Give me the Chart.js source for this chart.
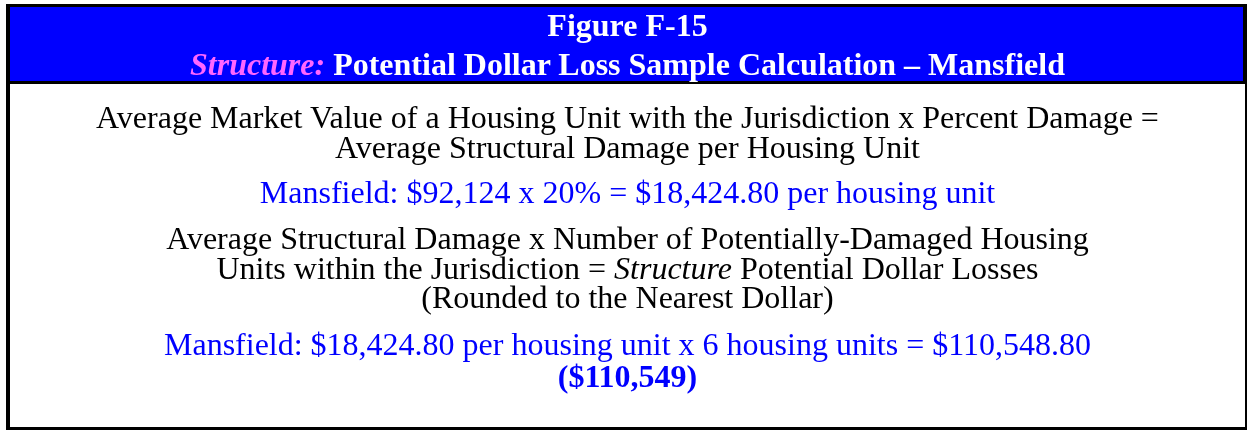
<!DOCTYPE html>
<html>
<head>
<meta charset="utf-8">
<script src="https://cdn.jsdelivr.net/npm/chart.js@4.4.0/dist/chart.umd.min.js"></script>
<style>
  html, body { margin: 0; padding: 0; background: #ffffff; }
  #wrap { position: relative; width: 1247px; height: 430px; overflow: hidden; }
  #c { position: absolute; left: 0; top: 0; }
  .ln { position: absolute; left: 10px; width: 1235px; text-align: center; white-space: nowrap;
        font-family: "Liberation Serif", "Times New Roman", serif; line-height: 1; }
  .hd { color: #ffffff; font-weight: bold; font-size: 32px; }
  .pk { color: #ff66ff; font-style: italic; }
  .bk { color: #000000; font-size: 32px; }
  .bl { color: #0000ff; font-size: 32px; }
  .bb { color: #0000ff; font-size: 32px; font-weight: bold; }
</style>
</head>
<body>
<div id="wrap">
  <canvas id="c" width="1247" height="430"></canvas>
  <div id="txt"></div>
</div>
<script>
// ---- content (text data) ----
const titleLine1 = "Figure F-15";
const titleItalic = "Structure:";
const titleRest = " Potential Dollar Loss Sample Calculation \u2013 Mansfield";
const formula1 = ["Average Market Value of a Housing Unit with the Jurisdiction x Percent Damage =",
                  "Average Structural Damage per Housing Unit"];
const result1 = "Mansfield: $92,124 x 20% = $18,424.80 per housing unit";
const formula2a = "Average Structural Damage x Number of Potentially-Damaged Housing";
const formula2b = ["Units within the Jurisdiction = ", "Structure", " Potential Dollar Losses"];
const formula2c = "(Rounded to the Nearest Dollar)";
const result2 = "Mansfield: $18,424.80 per housing unit x 6 housing units = $110,548.80";
const result2Rounded = "($110,549)";

// ---- frame drawn by a Chart.js plugin ----
const framePlugin = {
  id: 'frame',
  beforeDraw(chart) {
    const ctx = chart.ctx;
    ctx.save();
    ctx.fillStyle = '#ffffff';
    ctx.fillRect(0, 0, 1247, 430);
    ctx.fillStyle = '#0000ff';
    ctx.fillRect(6, 4, 1241, 80);
    ctx.fillStyle = '#000000';
    ctx.fillRect(6, 4, 1241, 3);      // top border
    ctx.fillRect(6, 81, 1241, 3);     // header separator
    ctx.fillRect(6, 4, 4, 426);       // left border
    ctx.fillRect(1243, 4, 4, 80);     // right border (header)
    ctx.fillRect(1245, 84, 2, 346);   // right border (body)
    ctx.fillRect(6, 427, 1241, 3);    // bottom border
    ctx.restore();
  }
};

new Chart(document.getElementById('c'), {
  type: 'bar',
  data: { labels: [], datasets: [] },
  options: {
    responsive: false,
    animation: false,
    events: [],
    layout: { padding: 0 },
    plugins: { legend: { display: false }, title: { display: false }, tooltip: { enabled: false } },
    scales: { x: { display: false }, y: { display: false } }
  },
  plugins: [framePlugin]
});

// ---- text layout ----
const txt = document.getElementById('txt');
function esc(s) { return s.replace(/&/g, '&amp;').replace(/</g, '&lt;'); }
function addLine(cls, html, baseline, size) {
  const d = document.createElement('div');
  d.className = 'ln ' + cls;
  d.innerHTML = html;
  d.style.top = (baseline - size * 0.891) + 'px';
  txt.appendChild(d);
}
addLine('hd', esc(titleLine1), 38, 32);
addLine('hd', '<span class="pk">' + esc(titleItalic) + '</span>' + esc(titleRest), 77, 32);
addLine('bk', esc(formula1[0]), 130, 32);
addLine('bk', esc(formula1[1]), 160, 32);
addLine('bl', esc(result1), 205, 32);
addLine('bk', esc(formula2a), 251, 32);
addLine('bk', esc(formula2b[0]) + '<i>' + esc(formula2b[1]) + '</i>' + esc(formula2b[2]), 281, 32);
addLine('bk', esc(formula2c), 310, 32);
addLine('bl', esc(result2), 357, 32);
addLine('bb', esc(result2Rounded), 389, 32);
</script>
</body>
</html>
